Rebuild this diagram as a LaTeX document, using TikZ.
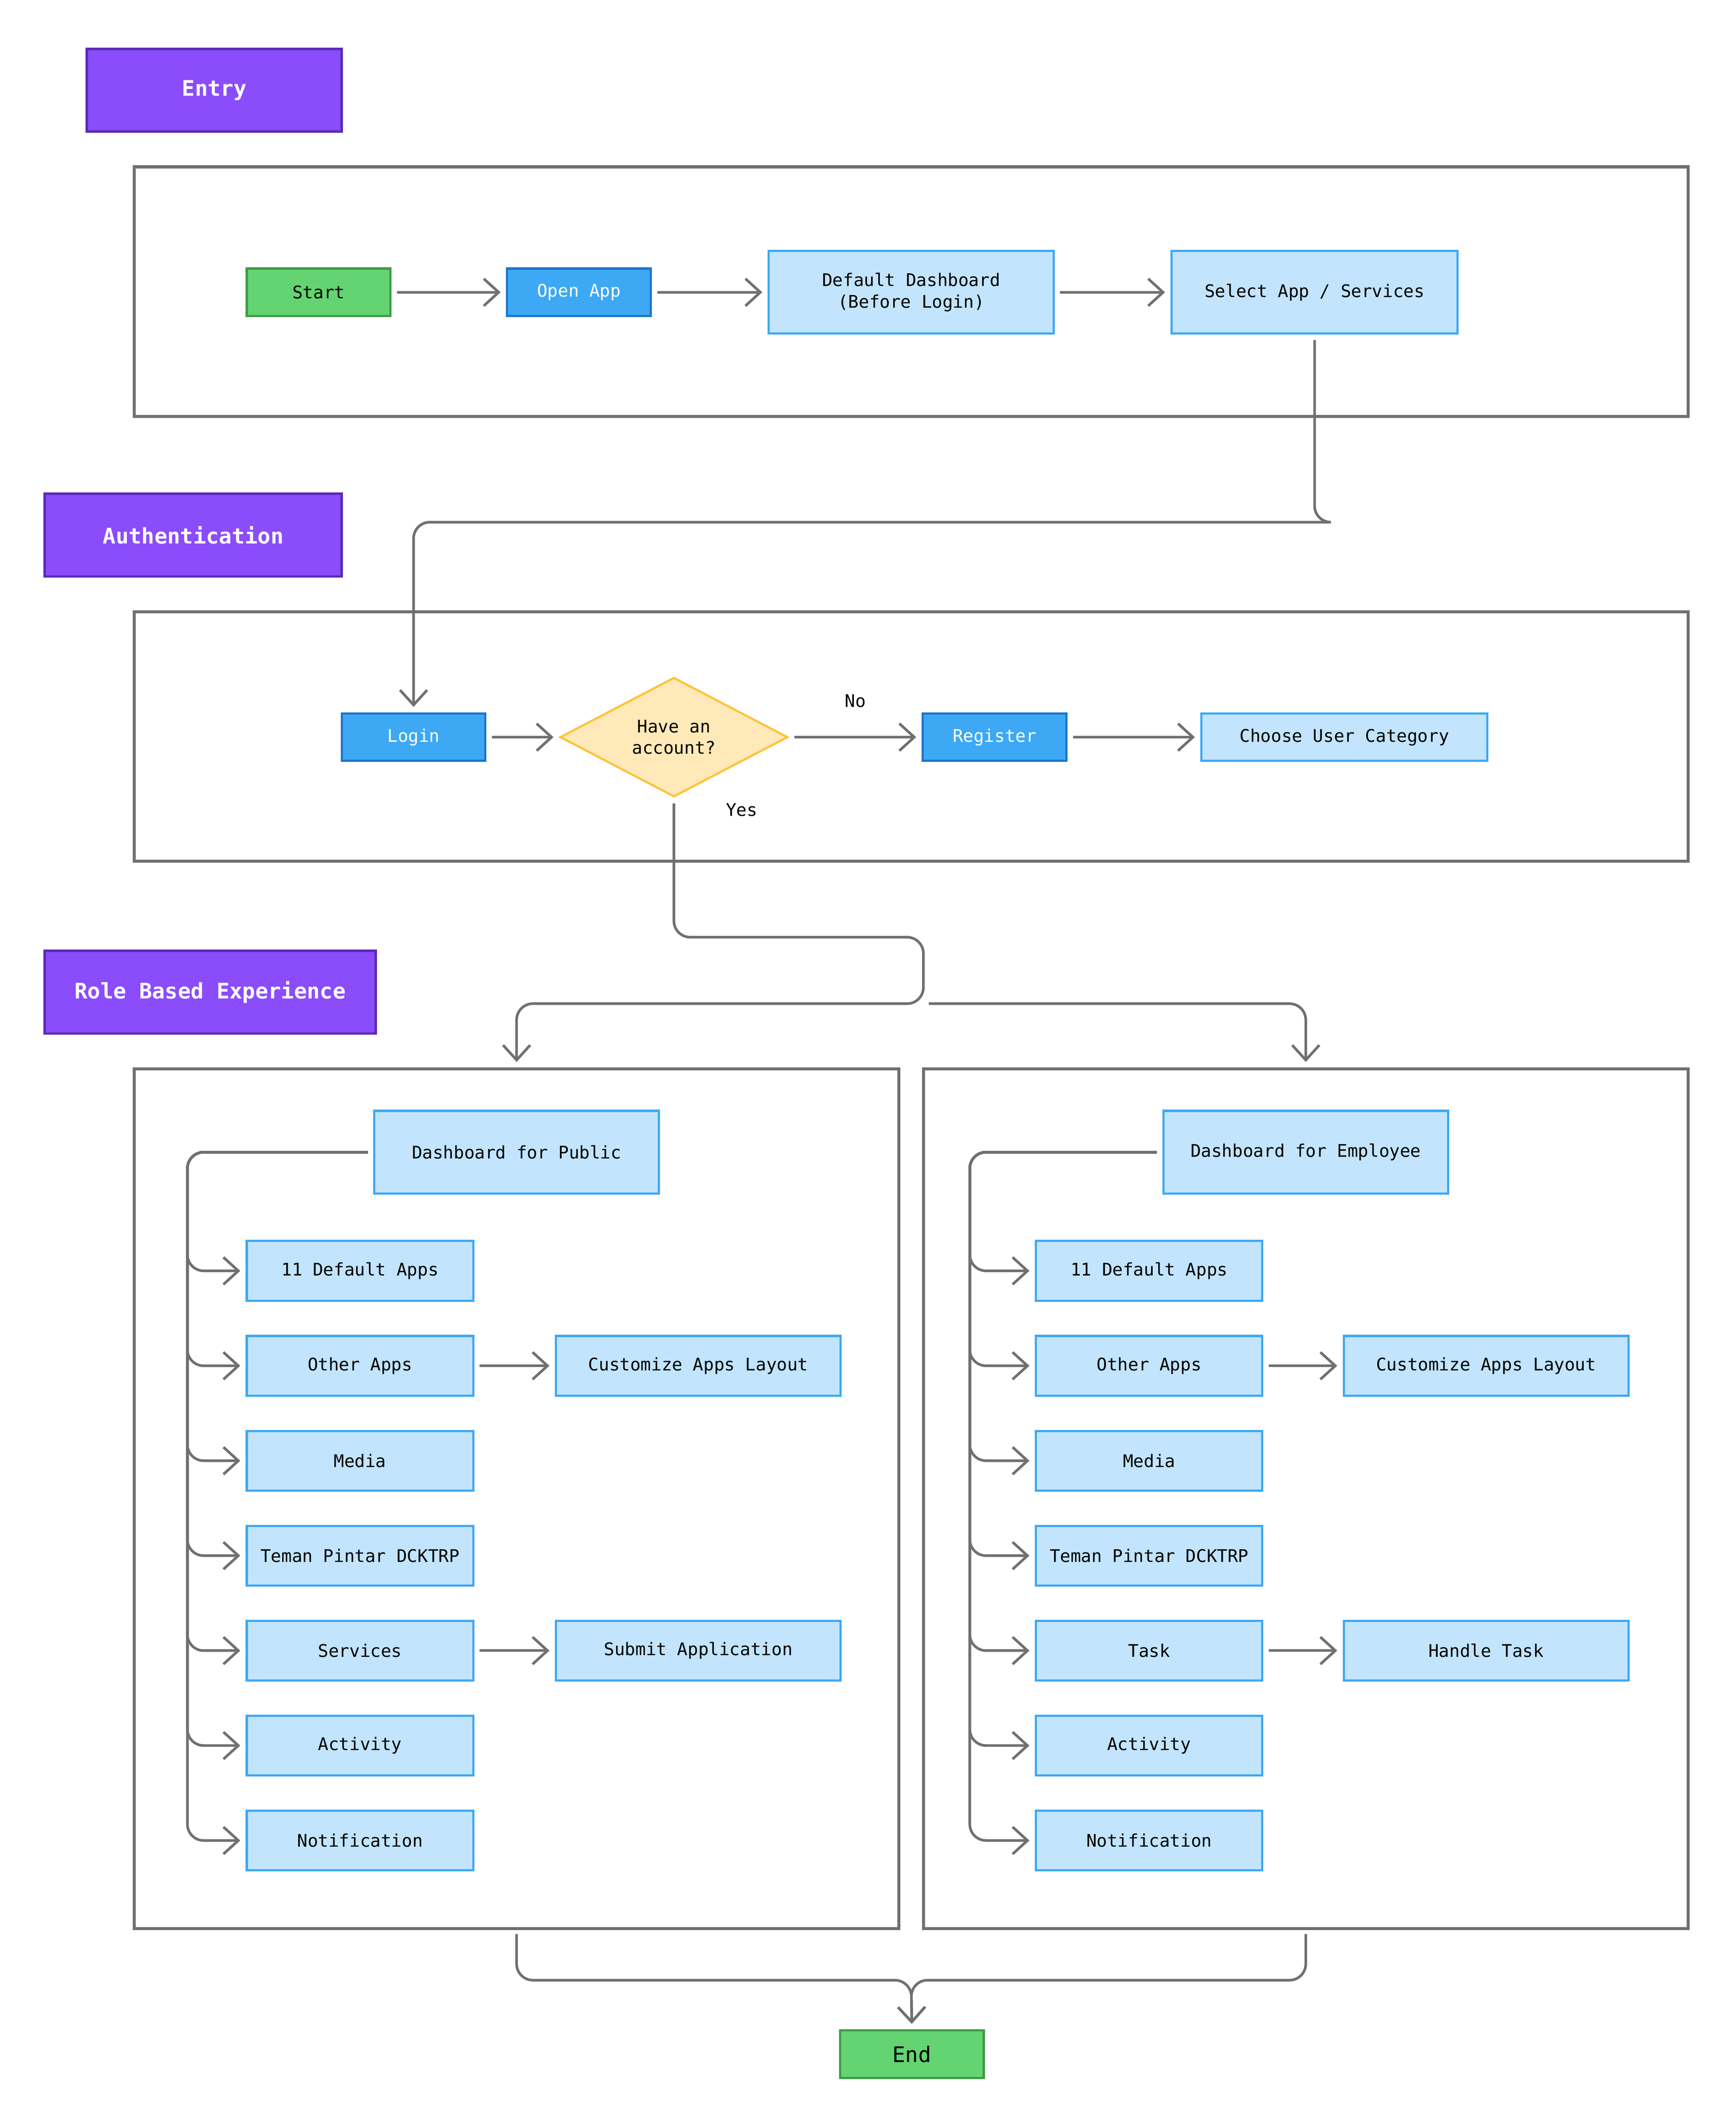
\documentclass[tikz,border=0pt]{standalone}
\usepackage{fontspec}
\setmonofont{DejaVu Sans Mono}
\usetikzlibrary{arrows.meta,positioning,shapes.geometric,calc}
\definecolor{lblue}{HTML}{C2E4FD}
\definecolor{mblue}{HTML}{3DA8F4}
\definecolor{dblue}{HTML}{1C76C9}
\definecolor{lgreen}{HTML}{63D471}
\definecolor{dgreen}{HTML}{3E9B48}
\definecolor{lpurple}{HTML}{8B4CFC}
\definecolor{dpurple}{HTML}{5B2BB5}
\definecolor{lyellow}{HTML}{FFE9B8}
\definecolor{dyellow}{HTML}{FDC43C}
\definecolor{lgray}{HTML}{707070}
\begin{document}
\begin{tikzpicture}[
    x=0.02cm, y=-0.02cm,
    font=\ttfamily\fontsize{7.3}{9}\selectfont,
    sz/.style 2 args={minimum width=#1*0.02cm, minimum height=#2*0.02cm, inner sep=0pt},
    light/.style={rectangle, draw=mblue, fill=lblue, line width=0.9pt, align=center},
    dark/.style={rectangle, draw=dblue, fill=mblue, text=white, line width=0.9pt},
    term/.style={rectangle, draw=dgreen, fill=lgreen, line width=0.9pt},
    phase/.style={rectangle, draw=dpurple, fill=lpurple, text=white, line width=1pt, font=\ttfamily\fontsize{9}{11}\selectfont\bfseries},
    frame/.style={draw=lgray, line width=1.3pt},
    conn/.style={draw=lgray, line width=1.1pt, -{Straight Barb[length=2.2mm, width=4mm]}, rounded corners=0.24cm, shorten >=0.08cm, shorten <=0.08cm}
]
\useasboundingbox (0,0) rectangle (1280,1569);

% Entry
\node[phase, sz={188}{61}] (entry) at (158,66.5) {Entry};
\draw[frame] (99,123) rectangle (1245,307);
\node[term, sz={106}{35}] (start) at (235,215.5) {Start};
\node[dark, sz={106}{35}] (open) at (427,215.5) {Open App};
\node[light, sz={210}{61}] (dflt) at (672,215.5) {Default Dashboard\\(Before Login)};
\node[light, sz={211}{61}] (select) at (969.5,215.5) {Select App / Services};
\draw[conn] (start) -- (open);
\draw[conn] (open) -- (dflt);
\draw[conn] (dflt) -- (select);

% Authentication
\node[phase, sz={219}{61}] (auth) at (142.5,394.5) {Authentication};
\draw[frame] (99,451) rectangle (1245,635);
\node[dark, sz={106}{35}] (login) at (305,543.5) {Login};
\node[diamond, draw=dyellow, fill=lyellow, line width=0.9pt, minimum width=168*0.02cm, minimum height=88*0.02cm, inner sep=0pt, aspect=1.9, align=center] (acct) at (497,543.5) {Have an\\account?};
\node[dark, sz={106}{35}] (reg) at (733.5,543.5) {Register};
\node[light, sz={211}{35}] (cat) at (991.5,543.5) {Choose User Category};
\coordinate (bend1) at (970,385);
\draw[conn] (select.south) |- (bend1) -| (login.north);
\draw[conn] (login) -- (acct);
\draw[conn] (acct) -- node[above=0.3cm] {No} (reg);
\draw[conn] (reg) -- (cat);
\node (yes) at (547,597) {Yes};

% Role based experience
\node[phase, sz={244}{61}] (role) at (155,731.5) {Role Based Experience};
\draw[frame] (99,788) rectangle (663,1422);
\draw[frame] (681,788) rectangle (1245,1422);
\coordinate (fpub) at (381,788);
\coordinate (femp) at (963,788);
\coordinate (split) at (681,740);
\draw[conn, shorten >=0.1cm] (acct.south) |- (681,691) -- (split) -| (fpub);
\draw[conn, shorten >=0.1cm] (split) -| (femp);

% Public
\node[light, sz={210}{61}] (dpub) at (381,849.5) {Dashboard for Public};
\foreach \t [count=\i] in {11 Default Apps, Other Apps, Media, Teman Pintar DCKTRP, Services, Activity, Notification}
{
    \node[light, sz={167}{44}] (p\i) at (265.5,{937+70*(\i-1)}) {\t};
    \draw[conn] (dpub.west) -| ([xshift=-0.86cm]p\i.west) -- (p\i.west);
}
\node[light, sz={210}{44}] (pcust) at (515,1007) {Customize Apps Layout};
\node[light, sz={210}{44}] (psub) at (515,1217) {Submit Application};
\draw[conn] (p2) -- (pcust);
\draw[conn] (p5) -- (psub);

% Employee
\node[light, sz={210}{61}] (demp) at (963,849.5) {Dashboard for Employee};
\foreach \t [count=\i] in {11 Default Apps, Other Apps, Media, Teman Pintar DCKTRP, Task, Activity, Notification}
{
    \node[light, sz={167}{44}] (e\i) at (847.5,{937+70*(\i-1)}) {\t};
    \draw[conn] (demp.west) -| ([xshift=-0.96cm]e\i.west) -- (e\i.west);
}
\node[light, sz={210}{44}] (ecust) at (1096,1007) {Customize Apps Layout};
\node[light, sz={210}{44}] (ehand) at (1096,1217) {Handle Task};
\draw[conn] (e2) -- (ecust);
\draw[conn] (e5) -- (ehand);

% End
\node[term, sz={106}{35}, font=\ttfamily\fontsize{9}{11}\selectfont] (end) at (672.5,1514.5) {End};
\coordinate (jpub) at (381,1422);
\coordinate (jemp) at (963,1422);
\draw[conn] (jpub) |- (672,1460) -- (end.north);
\draw[conn] (jemp) |- (672,1460) -- (end.north);
\end{tikzpicture}
\end{document}
